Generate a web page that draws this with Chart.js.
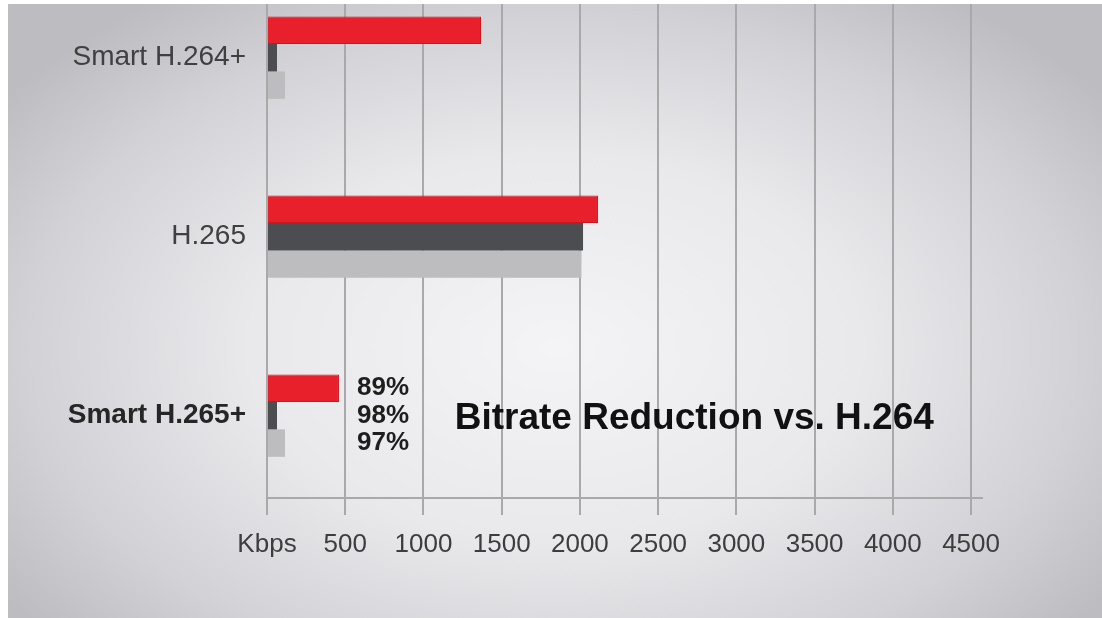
<!DOCTYPE html>
<html>
<head>
<meta charset="utf-8">
<script src="https://cdn.jsdelivr.net/npm/chart.js@4/dist/chart.umd.min.js"></script>
<style>
    html, body { margin: 0; padding: 0; background: #fff; }
    #wrap {
        position: absolute;
        left: 8px;
        top: 4px;
        width: 1094px;
        height: 614px;
        background: radial-gradient(ellipse 62% 70% at 50% 56%, #f4f4f6 0%, #e9e9ec 45%, #d2d2d6 78%, #bdbdc1 100%);
    }
</style>
</head>
<body>
<div id="wrap"><canvas id="chart" width="1094" height="614"></canvas></div>
<script>
const categories = ['Smart H.264+', 'H.265', 'Smart H.265+'];
const seriesRed = [1368, 2116, 460];
const seriesDark = [64, 2020, 64];
const seriesLight = [115, 2010, 115];
const tickLabels = ['Kbps', '500', '1000', '1500', '2000', '2500', '3000', '3500', '4000', '4500'];
const reductions = ['89%', '98%', '97%'];
const noteText = 'Bitrate Reduction vs. H.264';

const GRID = '#a9a9ac';
const FONT = '"Liberation Sans", Arial, sans-serif';

function points(values) {
    return values.map((v, i) => ({ x: v, y: i }));
}

// percentages next to the Smart H.265+ bars, plus the big caption
const notesPlugin = {
    id: 'notes',
    afterDatasetsDraw(chart) {
        const ctx = chart.ctx;
        const xs = chart.scales.x;
        const ys = chart.scales.y;
        ctx.save();
        ctx.fillStyle = '#1e1e1e';
        ctx.textAlign = 'left';
        ctx.textBaseline = 'middle';
        ctx.font = 'bold 26px ' + FONT;
        reductions.forEach((txt, i) => {
            const bar = chart.getDatasetMeta(i).data[2];
            ctx.fillText(txt, xs.getPixelForValue(575), bar.y);
        });
        ctx.font = 'bold 37px ' + FONT;
        ctx.fillStyle = '#111';
        ctx.fillText(noteText, xs.getPixelForValue(1200), ys.getPixelForValue(2.02));
        ctx.restore();
    }
};

new Chart(document.getElementById('chart'), {
    type: 'bar',
    data: {
        datasets: [
            { data: points(seriesRed), backgroundColor: '#e8202b', borderColor: '#c9161f', borderWidth: 1 },
            { data: points(seriesDark), backgroundColor: '#4b4d50', borderWidth: 0 },
            { data: points(seriesLight), backgroundColor: '#bdbdbf', borderWidth: 0 },
        ],
    },
    options: {
        indexAxis: 'y',
        responsive: false,
        animation: false,
        categoryPercentage: 0.46,
        barPercentage: 1.0,
        layout: { padding: { left: 0, right: 120, top: 0, bottom: 0 } },
        plugins: {
            legend: { display: false },
            tooltip: { enabled: false },
        },
        scales: {
            x: {
                type: 'linear',
                min: 0,
                max: 4570,
                afterBuildTicks: (scale) => {
                    scale.ticks = tickLabels.map((t, i) => ({ value: i * 500 }));
                },
                afterFit: (scale) => { scale.height = 120; },
                ticks: {
                    autoSkip: false,
                    maxRotation: 0,
                    padding: 14,
                    color: '#3d3d3d',
                    font: { family: FONT, size: 26 },
                    callback: (v, i) => tickLabels[i],
                },
                grid: {
                    color: GRID,
                    lineWidth: 2,
                    drawTicks: true,
                    tickLength: 17,
                },
                border: { display: true, color: GRID, width: 2 },
            },
            y: {
                type: 'linear',
                reverse: true,
                offset: false,
                min: -0.3,
                max: 2.46,
                afterBuildTicks: (scale) => {
                    scale.ticks = categories.map((c, i) => ({ value: i }));
                },
                afterFit: (scale) => {
                    scale.width = 259;
                    scale.paddingTop = 0;
                    scale.paddingBottom = 0;
                },
                ticks: {
                    padding: 13,
                    color: (c) => c.index === 2 ? '#262626' : '#404040',
                    font: (c) => ({ family: FONT, size: 28, weight: c.index === 2 ? 'bold' : 'normal' }),
                    callback: (v, i) => categories[i],
                },
                grid: { display: false, offset: false },
                border: { display: false },
            },
        },
    },
    plugins: [notesPlugin],
});
</script>
</body>
</html>
